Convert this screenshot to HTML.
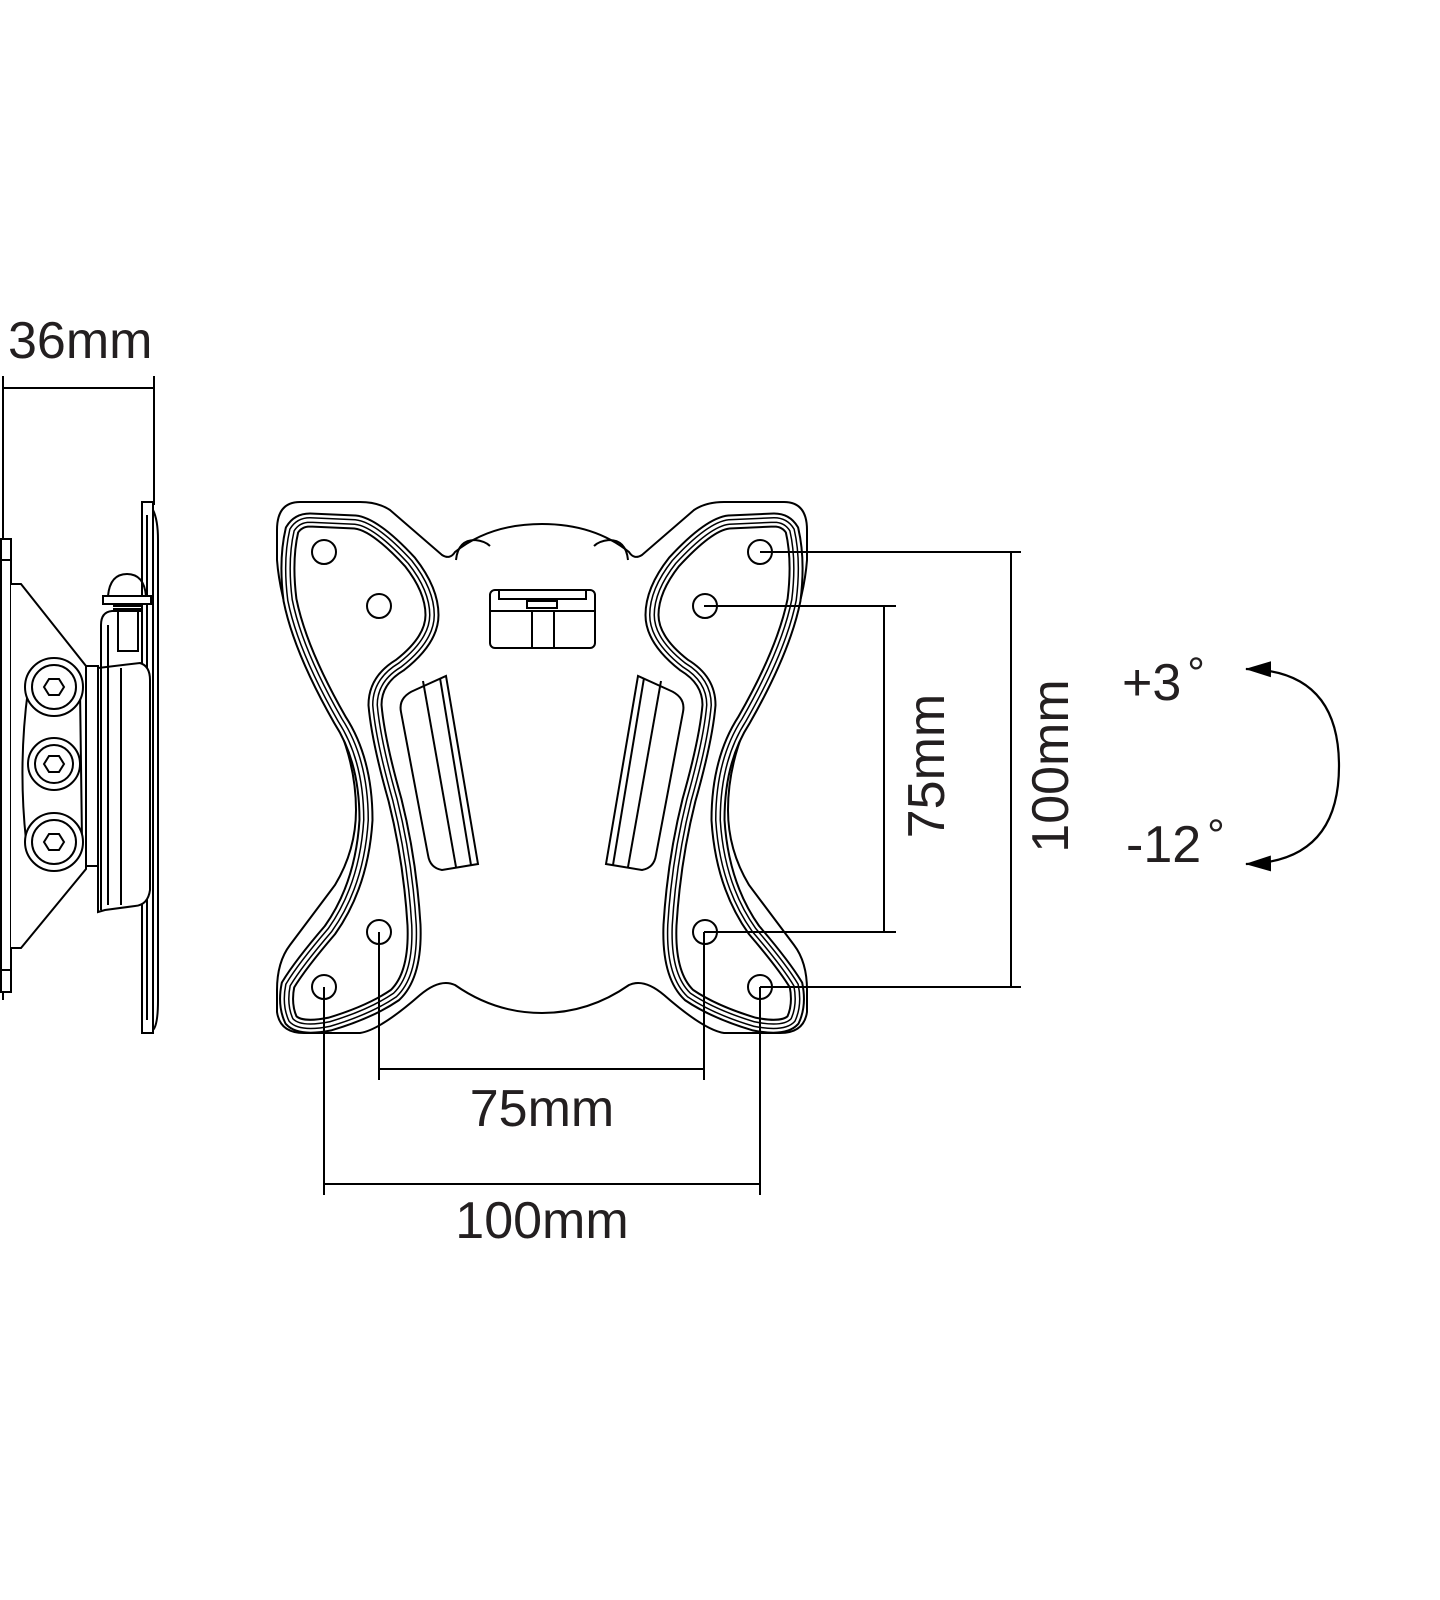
<!DOCTYPE html>
<html><head><meta charset="utf-8"><style>
html,body{margin:0;padding:0;background:#fff;width:1440px;height:1600px;overflow:hidden}
svg{display:block}
text{font-family:"Liberation Sans","DejaVu Sans",sans-serif;fill:#231f20}
</style></head><body>
<svg width="1440" height="1600" viewBox="0 0 1440 1600" xmlns="http://www.w3.org/2000/svg">
<defs>
<marker id="ah" markerWidth="26" markerHeight="18" refX="25" refY="9" orient="auto-start-reverse" markerUnits="userSpaceOnUse" viewBox="0 0 26 18">
<path d="M0,1 L26,9 L0,17 Z" fill="#000"/></marker>
<path id="rail" d="M292,530 Q298,520 310,520 L355,522 Q375,524 410,562 Q432,590 432,615 Q432,640 400,665 Q375,680 375,705 Q378,740 395,800 Q410,860 414,925 Q416,975 395,995 Q370,1012 330,1024 Q300,1030 291,1020 Q284,1005 288,985 Q300,965 330,930 Q362,885 366,820 Q366,760 340,720 Q300,650 290,600 Q285,560 292,530 Z"/>
</defs>
<g fill="none" stroke="#000" stroke-width="2">
<line x1="3" y1="376" x2="3" y2="1000"/>
<line x1="154" y1="376" x2="154" y2="505"/>
<line x1="3" y1="388" x2="154" y2="388"/>
<rect x="1" y="539" width="10" height="453" fill="#fff"/>
<line x1="1" y1="560" x2="11" y2="560"/><line x1="1" y1="970" x2="11" y2="970"/>
<path d="M11,584 L21,584 L86,666 L86,869 L21,948 L11,948" fill="#fff"/>
<rect x="142" y="502" width="11" height="531" fill="#fff"/>
<line x1="147" y1="515" x2="147" y2="1020"/>
<path d="M153,510 Q158,520 158,540 L158,1000 Q158,1025 153,1030"/>
<rect x="86" y="666" width="12" height="200" fill="#fff"/>
<path d="M98,668 L140,663 Q150,666 150,680 L150,890 Q148,905 135,906 L105,910 L98,912 Z" fill="#fff"/>
<line x1="121" y1="668" x2="121" y2="905"/>
<path d="M101,910 L101,625 Q101,612 112,611 L142,611" fill="none"/>
<path d="M108,625 L108,905"/>
<rect x="118" y="611" width="20" height="40" fill="#fff"/>
<rect x="103" y="596" width="48" height="8" fill="#fff"/>
<path d="M108,596 Q110,574 127,574 Q144,574 146,596"/>
<line x1="113" y1="606" x2="141" y2="606"/><line x1="113" y1="609" x2="141" y2="609"/>
<path d="M28,690 Q40,660 54,660 Q68,660 80,690 L82,840 Q70,870 54,870 Q38,870 26,840 Q18,765 28,690 Z" fill="#fff"/>
<g fill="#fff">
<circle cx="54" cy="687" r="29"/><circle cx="54" cy="687" r="22"/>
<circle cx="54" cy="764" r="26"/><circle cx="54" cy="764" r="19"/>
<circle cx="54" cy="842" r="29"/><circle cx="54" cy="842" r="22"/>
</g>
<path d="M44,687 L49,679 L59,679 L64,687 L59,695 L49,695 Z"/>
<path d="M44,764 L49,756 L59,756 L64,764 L59,772 L49,772 Z"/>
<path d="M44,842 L49,834 L59,834 L64,842 L59,850 L49,850 Z"/>
</g>

<g id="half" fill="none" stroke="#000">
<path stroke-width="2" d="M542,524 Q490,524 455,552 Q450,560 442,555 L390,510 Q378,502 360,502 L300,502 Q277,502 277,530 L277,560 Q280,600 300,650 L340,730 Q356,770 356,810 Q356,850 335,885 L290,945 Q277,962 277,990 L277,1012 Q280,1033 304,1033 L360,1033 Q380,1030 420,995 Q440,978 455,985 Q495,1013 542,1013"/>
<path stroke-width="2" d="M456,560 Q458,540 475,540 Q485,541 490,546"/>
<use href="#rail" stroke="#000" stroke-width="15"/>
<use href="#rail" stroke="#fff" stroke-width="11"/>
<use href="#rail" stroke="#000" stroke-width="6"/>
<use href="#rail" stroke="#fff" stroke-width="3"/>
<circle cx="324" cy="552" r="12" stroke-width="2"/>
<circle cx="379" cy="606" r="12" stroke-width="2"/>
<circle cx="324" cy="987" r="12" stroke-width="2"/>
<circle cx="379" cy="932" r="12" stroke-width="2"/>
<path stroke-width="2" d="M446,676 L478,864 L442,870 Q430,868 428,855 L401,712 Q398,697 415,690 Z"/>
<line stroke-width="2" x1="423" y1="681" x2="456" y2="867"/>
<line stroke-width="2" x1="440" y1="678" x2="471" y2="865"/>
</g>
<use href="#half" transform="translate(1084,0) scale(-1,1)"/>
<g fill="none" stroke="#000" stroke-width="2">
<rect x="490" y="590" width="105" height="58" rx="5"/>
<path d="M499,590 L499,599 L586,599 L586,590"/>
<rect x="527" y="601" width="30" height="7"/>
<line x1="490" y1="611" x2="595" y2="611"/>
<line x1="532" y1="611" x2="532" y2="648"/><line x1="554" y1="611" x2="554" y2="648"/>

<path d="M760,552 L1021,552 M760,987 L1021,987 M1011,552 L1011,987"/>
<path d="M704,606 L896,606 M704,932 L896,932 M884,606 L884,932"/>
<path d="M379,932 L379,1080 M704,932 L704,1080 M379,1069 L704,1069"/>
<path d="M324,987 L324,1195 M760,987 L760,1195 M324,1184 L760,1184"/>
<path d="M1246,669 Q1339,670 1339,766 Q1339,862 1246,864" marker-start="url(#ah)" marker-end="url(#ah)" stroke-width="2.2"/>
</g>

<g font-size="52">
<text x="8" y="358">36mm</text>
<text x="542" y="1126" text-anchor="middle">75mm</text>
<text x="542" y="1238" text-anchor="middle">100mm</text>
<text transform="translate(944,766) rotate(-90)" text-anchor="middle">75mm</text>
<text transform="translate(1068,766) rotate(-90)" text-anchor="middle">100mm</text>
<text x="1122" y="700">+3<tspan font-size="44" dy="-12" dx="6">°</tspan></text>
<text x="1126" y="862">-12<tspan font-size="44" dy="-12" dx="6">°</tspan></text>
</g>
</svg>
</body></html>
